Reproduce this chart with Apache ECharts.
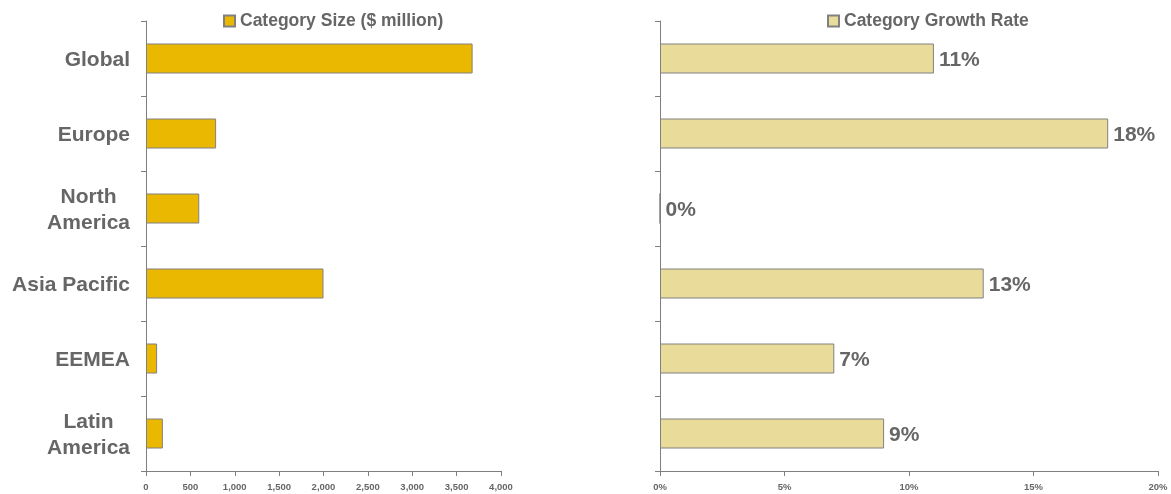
<!DOCTYPE html>
<html>
<head>
<meta charset="utf-8">
<script src="https://cdn.jsdelivr.net/npm/echarts@6/dist/echarts.min.js"></script>
<style>html,body{margin:0;padding:0;background:#fff}#c{width:1171px;height:494px}</style>
</head>
<body>
<div id="c"></div>
<script>
const categories = ['Global', 'Europe', 'North\nAmerica', 'Asia Pacific', 'EEMEA', 'Latin\nAmerica'];
const sizeValues = [3680, 790, 600, 2000, 125, 190];
const growthValues = [11, 18, 0, 13, 7, 9];
const sizeTicks = [0, 500, 1000, 1500, 2000, 2500, 3000, 3500, 4000];
const growthTicks = [0, 5, 10, 15, 20];
const sizeName = 'Category Size ($ million)';
const growthName = 'Category Growth Rate';

const FONT = '"Liberation Sans", Arial, sans-serif';
const GREY = '#666666';
const AXIS = '#7f7f7f';

function commas(v) { return String(v).replace(/\B(?=(\d{3})+(?!\d))/g, ','); }

const chart = echarts.init(document.getElementById('c'), null, {renderer: 'canvas'});
const axisCommon = {
  axisLine: {show: true, lineStyle: {color: AXIS, width: 1}},
  axisTick: {show: true, length: 5, lineStyle: {color: AXIS}},
  splitLine: {show: false}
};
const legendText = {color: GREY, fontSize: 17.5, fontWeight: 'bold', fontFamily: FONT};
chart.setOption({
  animation: false,
  textStyle: {fontFamily: FONT},
  legend: [
    {data: [sizeName], left: 223, top: 12, padding: 0, icon: 'rect', itemWidth: 11, itemHeight: 11, itemGap: 4,
     textStyle: legendText},
    {data: [growthName], left: 827, top: 12, padding: 0, icon: 'rect', itemWidth: 11, itemHeight: 11, itemGap: 4,
     textStyle: legendText}
  ],
  grid: [
    {left: 146, right: 670, top: 21, bottom: 23, containLabel: false},
    {left: 660, right: 13, top: 21, bottom: 23, containLabel: false}
  ],
  xAxis: [
    Object.assign({}, axisCommon, {
      gridIndex: 0, type: 'value', min: sizeTicks[0], max: sizeTicks[sizeTicks.length - 1], interval: 500,
      axisLabel: {color: GREY, fontSize: 9.5, fontWeight: 'bold', fontFamily: FONT, margin: 11, formatter: v => commas(v)}
    }),
    Object.assign({}, axisCommon, {
      gridIndex: 1, type: 'value', min: growthTicks[0], max: growthTicks[growthTicks.length - 1], interval: 5,
      axisLabel: {color: GREY, fontSize: 9.5, fontWeight: 'bold', fontFamily: FONT, margin: 11, formatter: v => v + '%'}
    })
  ],
  yAxis: [
    Object.assign({}, axisCommon, {
      gridIndex: 0, type: 'category', data: categories, inverse: true,
      axisLabel: {
        color: GREY, fontSize: 21, fontWeight: 'bold', fontFamily: FONT, margin: 16, align: 'right',
        padding: [3, 0, 0, 0],
        formatter: v => v.split('\n').map(s => '{c|' + s + '}').join('\n'),
        rich: {c: {align: 'center', color: GREY, fontSize: 21, fontWeight: 'bold', fontFamily: FONT, lineHeight: 26}}
      }
    }),
    Object.assign({}, axisCommon, {
      gridIndex: 1, type: 'category', data: categories, inverse: true,
      axisLabel: {show: false}
    })
  ],
  series: [
    {name: sizeName, type: 'bar', xAxisIndex: 0, yAxisIndex: 0, data: sizeValues, barWidth: 30,
     itemStyle: {color: '#EAB800', borderColor: '#808080', borderWidth: 1}},
    {name: growthName, type: 'bar', xAxisIndex: 1, yAxisIndex: 1, data: growthValues, barWidth: 30,
     itemStyle: {color: '#E9DC9B', borderColor: '#808080', borderWidth: 1},
     label: {show: true, position: 'right', distance: 5, offset: [0, 2], formatter: p => p.value + '%',
             color: GREY, fontSize: 21, fontWeight: 'bold', fontFamily: FONT}}
  ]
});
</script>
</body>
</html>
